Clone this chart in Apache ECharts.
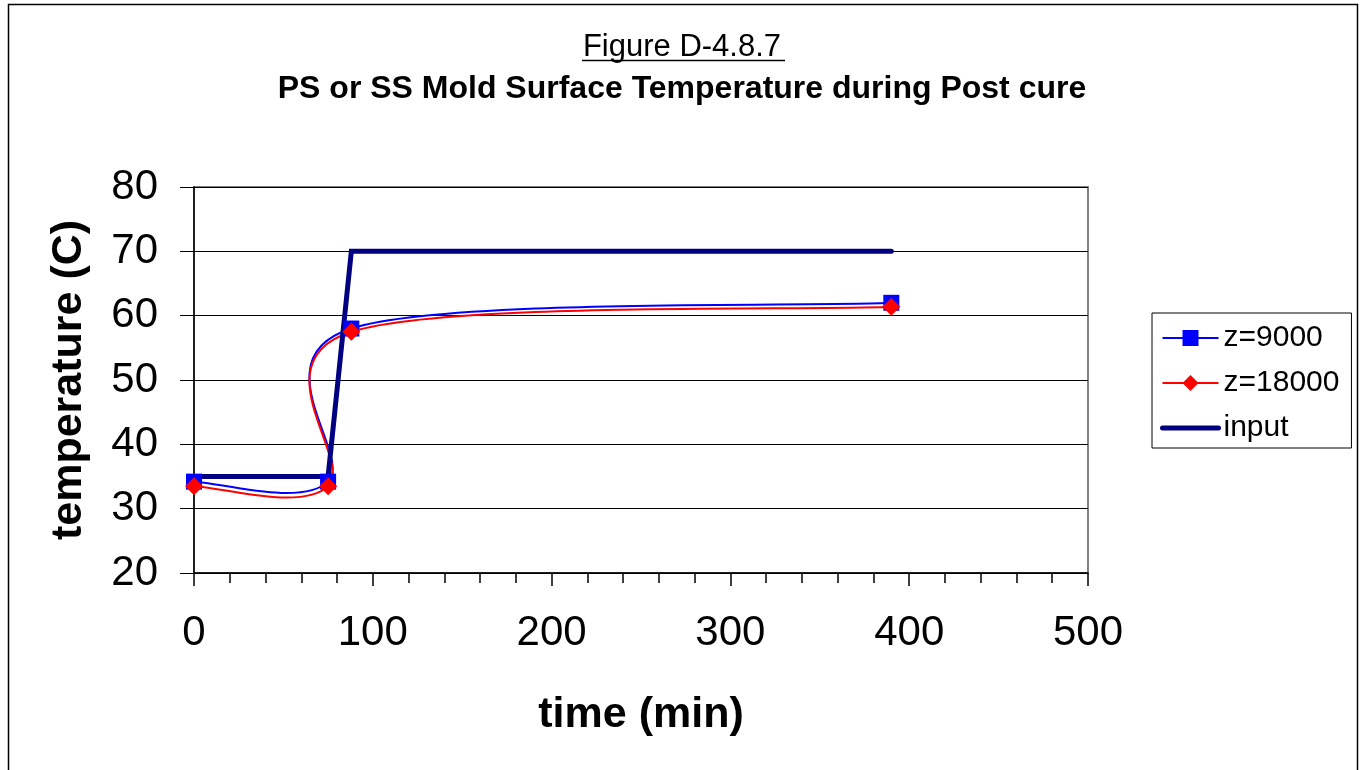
<!DOCTYPE html>
<html>
<head>
<meta charset="utf-8">
<script src="https://cdn.jsdelivr.net/npm/echarts@6/dist/echarts.min.js"></script>
<style>
html,body{margin:0;padding:0;background:#fff;}
#chart{width:1364px;height:770px;}
</style>
</head>
<body>
<div id="chart"></div>
<script>
// ---- data ----
const timeZ9000 = [0, 75, 88, 390];
const tempZ9000 = [34.2, 34.2, 58.0, 62.0];
const timeZ18000 = [0, 75, 88, 390];
const tempZ18000 = [33.5, 33.5, 57.5, 61.4];
const timeInput = [0, 75, 88, 390];
const tempInput = [35, 35, 70, 70];
const xTicks = [0, 100, 200, 300, 400, 500];
const yTicks = [20, 30, 40, 50, 60, 70, 80];
const seriesNames = ['z=9000', 'z=18000', 'input'];
const titleText = 'Figure D-4.8.7';
const subTitleText = 'PS or SS Mold Surface Temperature during Post cure';
const xName = 'time (min)';
const yName = 'temperature (C)';

const FONT = "'Liberation Sans', Arial, sans-serif";

function pairs(xs, ys) { return xs.map((x, i) => [x, ys[i]]); }

// Excel-style smoothed curve (Catmull-Rom /6 Bezier) through library coordinates
function smoothCurveSeries(name, xs, ys, color) {
  return {
    name: name + ' curve',
    type: 'custom',
    coordinateSystem: 'cartesian2d',
    silent: true,
    z: 2,
    data: [[xs[0], ys[0]]],
    renderItem: function (params, api) {
      const p = xs.map((x, i) => api.coord([x, ys[i]]));
      const n = p.length;
      let d = 'M' + p[0][0] + ' ' + p[0][1];
      for (let i = 0; i < n - 1; i++) {
        const p0 = p[Math.max(i - 1, 0)], p1 = p[i], p2 = p[i + 1], p3 = p[Math.min(i + 2, n - 1)];
        const c1 = [p1[0] + (p2[0] - p0[0]) / 6, p1[1] + (p2[1] - p0[1]) / 6];
        const c2 = [p2[0] - (p3[0] - p1[0]) / 6, p2[1] - (p3[1] - p1[1]) / 6];
        d += ' C' + c1[0] + ' ' + c1[1] + ' ' + c2[0] + ' ' + c2[1] + ' ' + p2[0] + ' ' + p2[1];
      }
      return {
        type: 'path',
        shape: { pathData: d },
        style: { stroke: color, fill: null, lineWidth: 2 }
      };
    }
  };
}

const chart = echarts.init(document.getElementById('chart'));
chart.setOption({
  animation: false,
  backgroundColor: '#ffffff',
  textStyle: { fontFamily: FONT },
  title: [
    { text: titleText, left: 'center', top: 32, padding: 0,
      textStyle: { fontFamily: FONT, fontSize: 31, fontWeight: 'normal', color: '#000' } },
    { text: subTitleText, left: 'center', top: 73, padding: 0,
      textStyle: { fontFamily: FONT, fontSize: 32, fontWeight: 'bold', color: '#000' } }
  ],
  graphic: [
    { type: 'rect', silent: true, z: 0,
      shape: { x: 8.5, y: 4.5, width: 1349, height: 820 },
      style: { fill: null, stroke: '#000', lineWidth: 1.5 } },
    { type: 'line', silent: true,
      shape: { x1: 582, y1: 60.5, x2: 785, y2: 60.5 },
      style: { stroke: '#000', lineWidth: 1.5 } }
  ],
  legend: {
    orient: 'vertical',
    left: 1152, top: 313,
    padding: [10, 12, 5, 8],
    backgroundColor: '#fff',
    borderColor: '#000', borderWidth: 1,
    itemWidth: 56, itemHeight: 20, itemGap: 15,
    textStyle: { fontFamily: FONT, fontSize: 30, color: '#000', lineHeight: 30, padding: [0, 0, 0, 0] },
    data: [
      { name: seriesNames[0], lineStyle: { color: '#0000ff', width: 2, opacity: 1 } },
      { name: seriesNames[1], lineStyle: { color: '#ff0000', width: 2, opacity: 1 } },
      { name: seriesNames[2], lineStyle: { color: '#000080', width: 5, opacity: 1 },
        itemStyle: { opacity: 0 } }
    ]
  },
  grid: {
    left: 194, top: 187, width: 894, height: 386,
    show: true, borderColor: '#808080', borderWidth: 2, backgroundColor: '#fff'
  },
  xAxis: {
    type: 'value', min: 0, max: 500, interval: 100,
    name: xName, nameLocation: 'middle', nameGap: 121,
    nameTextStyle: { fontFamily: FONT, fontSize: 43, fontWeight: 'bold', color: '#000' },
    axisLine: { show: true, onZero: false, lineStyle: { color: '#000', width: 1.5 } },
    axisTick: { show: true, inside: false, length: 13, lineStyle: { color: '#000', width: 1.5 } },
    minorTick: { show: true, splitNumber: 5, length: 10, lineStyle: { color: '#000', width: 1.5 } },
    axisLabel: { fontFamily: FONT, fontSize: 42, color: '#000', margin: 39,
      customValues: xTicks },
    splitLine: { show: false },
    minorSplitLine: { show: false }
  },
  yAxis: {
    type: 'value', min: 20, max: 80, interval: 10,
    name: yName, nameLocation: 'middle', nameGap: 103,
    nameTextStyle: { fontFamily: FONT, fontSize: 43, fontWeight: 'bold', color: '#000' },
    axisLine: { show: true, onZero: false, lineStyle: { color: '#000', width: 1.5 } },
    axisTick: { show: true, inside: false, length: 14, lineStyle: { color: '#000', width: 1 } },
    axisLabel: { fontFamily: FONT, fontSize: 42, color: '#000', margin: 36 },
    splitLine: { show: true, lineStyle: { color: '#000', width: 1 } }
  },
  series: [
    smoothCurveSeries(seriesNames[0], timeZ9000, tempZ9000, '#0000ff'),
    smoothCurveSeries(seriesNames[1], timeZ18000, tempZ18000, '#ff0000'),
    {
      name: seriesNames[2], type: 'line', z: 3,
      data: pairs(timeInput, tempInput),
      showSymbol: false, symbol: 'none',
      lineStyle: { color: '#000080', width: 5, cap: 'round', join: 'miter' },
      itemStyle: { color: '#000080' }
    },
    {
      name: seriesNames[0], type: 'line', z: 4,
      data: pairs(timeZ9000, tempZ9000),
      symbol: 'rect', symbolSize: 16,
      lineStyle: { width: 0, opacity: 0, color: '#0000ff' },
      itemStyle: { color: '#0000ff' }
    },
    {
      name: seriesNames[1], type: 'line', z: 5,
      data: pairs(timeZ18000, tempZ18000),
      symbol: 'diamond', symbolSize: 18,
      lineStyle: { width: 0, opacity: 0, color: '#ff0000' },
      itemStyle: { color: '#ff0000' }
    }
  ]
});
</script>
</body>
</html>
